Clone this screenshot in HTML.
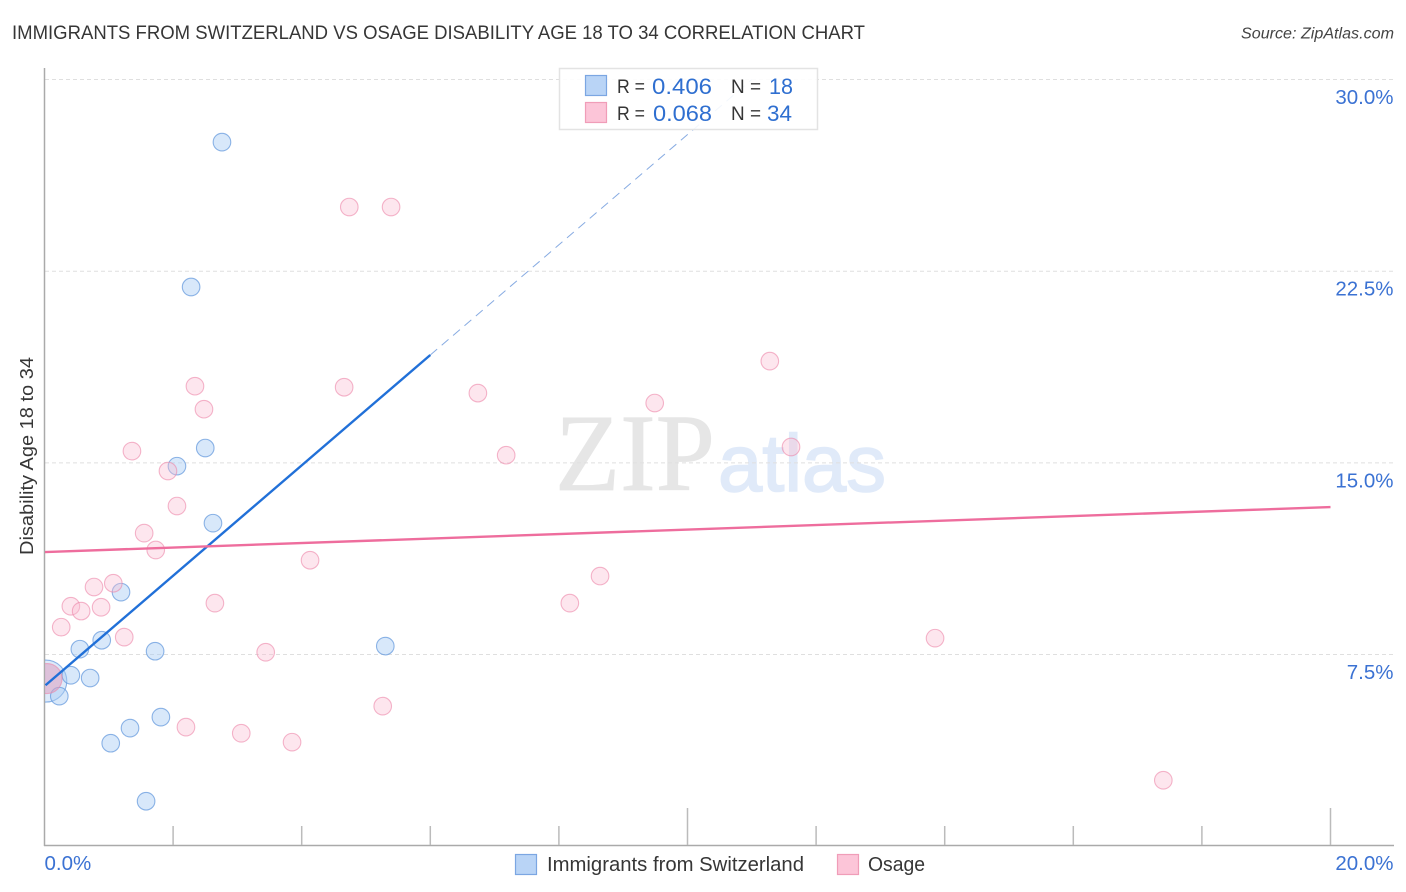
<!DOCTYPE html>
<html lang="en">
<head>
<meta charset="utf-8">
<title>Immigrants from Switzerland vs Osage Disability Age 18 to 34 Correlation Chart</title>
<style>
html,body{margin:0;padding:0;background:#fff;}
body{width:1406px;height:892px;overflow:hidden;}
svg{display:block;font-family:"Liberation Sans",sans-serif;}
</style>
</head>
<body>
<svg id="chart" xmlns="http://www.w3.org/2000/svg" width="1406" height="892" viewBox="0 0 1406 892">
  <defs><clipPath id="plot-clip"><rect x="45" y="60" width="1349" height="785"/></clipPath></defs>
  <text x="12" y="39" font-size="19.5" fill="#363636" textLength="853" lengthAdjust="spacingAndGlyphs">IMMIGRANTS FROM SWITZERLAND VS OSAGE DISABILITY AGE 18 TO 34 CORRELATION CHART</text>
  <text x="1241" y="38.5" font-size="15.5" font-style="italic" fill="#444" textLength="153" lengthAdjust="spacingAndGlyphs">Source: ZipAtlas.com</text>

  <g>
    <text x="555" y="490" font-family="'Liberation Serif',serif" font-size="110" fill="#e6e6e6" stroke="#e6e6e6" stroke-width="0.8" textLength="160" lengthAdjust="spacingAndGlyphs">ZIP</text>
    <text x="718" y="491" font-family="'Liberation Sans',sans-serif" font-size="81" fill="#e0eaf9" stroke="#e0eaf9" stroke-width="1.6" textLength="168" lengthAdjust="spacingAndGlyphs">atlas</text>
  </g>

  <g id="grid"></g>
  <g id="axes"></g>
  <g id="points" clip-path="url(#plot-clip)"></g>
  <g id="lines" clip-path="url(#plot-clip)"></g>

  <text transform="translate(33,456) rotate(-90)" text-anchor="middle" font-size="18" fill="#363636" textLength="198" lengthAdjust="spacingAndGlyphs">Disability Age 18 to 34</text>

  <g>
    <rect x="559.5" y="68.5" width="258" height="61" fill="#fff" fill-opacity="0.9" stroke="#e3e3e3" stroke-width="1.5"/>
    <rect x="585.5" y="75.5" width="21" height="20" fill="#b9d4f6" stroke="#7ba6e2" stroke-width="1.2"/>
    <rect x="585.5" y="102.5" width="21" height="20" fill="#fcc5d8" stroke="#f09db8" stroke-width="1.2"/>
    <text x="617" y="93" font-size="19.5" fill="#363636" textLength="28" lengthAdjust="spacingAndGlyphs">R =</text>
    <text x="652" y="94" font-size="22" fill="#2f6fd0" textLength="60" lengthAdjust="spacingAndGlyphs">0.406</text>
    <text x="731" y="93" font-size="19.5" fill="#363636" textLength="30" lengthAdjust="spacingAndGlyphs">N =</text>
    <text x="769" y="94" font-size="22" fill="#2f6fd0" textLength="24" lengthAdjust="spacingAndGlyphs">18</text>
    <text x="617" y="120" font-size="19.5" fill="#363636" textLength="28" lengthAdjust="spacingAndGlyphs">R =</text>
    <text x="653" y="121" font-size="22" fill="#2f6fd0" textLength="59" lengthAdjust="spacingAndGlyphs">0.068</text>
    <text x="731" y="120" font-size="19.5" fill="#363636" textLength="30" lengthAdjust="spacingAndGlyphs">N =</text>
    <text x="767" y="121" font-size="22" fill="#2f6fd0" textLength="25" lengthAdjust="spacingAndGlyphs">34</text>
  </g>

  <g>
    <rect x="515.5" y="854.5" width="21" height="20" fill="#b9d4f6" stroke="#7ba6e2" stroke-width="1.2"/>
    <text x="547" y="871" font-size="20" fill="#363636" textLength="257" lengthAdjust="spacingAndGlyphs">Immigrants from Switzerland</text>
    <rect x="837.5" y="854.5" width="21" height="20" fill="#fcc5d8" stroke="#f09db8" stroke-width="1.2"/>
    <text x="868" y="871" font-size="20" fill="#363636" textLength="57" lengthAdjust="spacingAndGlyphs">Osage</text>
  </g>
</svg>
<script>
// Chart data (percent values)
const xTickValues = [2, 4, 6, 8, 10, 12, 14, 16, 18, 20];
const xMajorTicks = [10, 20];
const xEndLabels = [0, 20];
const yTickValues = [7.5, 15, 22.5, 30];
const swissX = [2.76, 2.28, 2.50, 2.06, 2.62, 1.19, 0.89, 0.55, 1.72, 5.30, 0.41, 0.71, 0.23, 1.81, 1.33, 1.03, 1.58];
const swissY = [27.55, 21.88, 15.58, 14.87, 12.64, 9.94, 8.06, 7.71, 7.63, 7.83, 6.69, 6.58, 5.87, 5.05, 4.62, 4.03, 1.76];
const swissBigX = [0.02];
const swissBigY = [6.46];
const osageX = [4.74, 5.39, 11.28, 2.34, 4.66, 6.74, 9.49, 2.48, 1.36, 11.61, 7.18, 1.92, 2.06, 1.55, 1.73, 4.13, 8.64, 1.07, 0.77, 0.41, 0.88, 0.57, 8.17, 2.65, 0.26, 1.24, 13.85, 3.44, 5.26, 2.20, 3.06, 3.85, 17.40];
const osageY = [25.01, 25.01, 18.98, 18.00, 17.96, 17.73, 17.34, 17.10, 15.46, 15.62, 15.30, 14.68, 13.31, 12.25, 11.59, 11.19, 10.57, 10.29, 10.14, 9.39, 9.35, 9.20, 9.51, 9.51, 8.57, 8.18, 8.14, 7.59, 5.48, 4.66, 4.42, 4.07, 2.58];
const osageBigX = [0.04];
const osageBigY = [6.56];
const swissTrendX = [0, 6];
const swissTrendY = [6.26, 19.22];
const swissDashX = [6, 11];
const swissDashY = [19.22, 30];
const osageTrendX = [0, 20];
const osageTrendY = [11.51, 13.27];

const NS = 'http://www.w3.org/2000/svg';
const sx = v => 44.5 + v * 64.3;
const sy = v => 846.2 - v * 25.556;
const fmt = v => v.toFixed(1) + '%';
function mk(parent, tag, attrs) {
  const el = document.createElementNS(NS, tag);
  for (const k in attrs) el.setAttribute(k, attrs[k]);
  parent.appendChild(el);
  return el;
}
const grid = document.getElementById('grid');
const axes = document.getElementById('axes');
const pts = document.getElementById('points');
const lines = document.getElementById('lines');

yTickValues.forEach(v => {
  const g = mk(grid, 'line', {x1: 45, x2: 1393, y1: sy(v), y2: sy(v), stroke: '#dfdfdf', 'stroke-width': 1, 'stroke-dasharray': '4 3'});
  
  
  const t = mk(axes, 'text', {x: 1393.5, y: sy(v) + 24.5, 'text-anchor': 'end', 'font-size': 20.5, fill: '#3b72d3'});
  t.textContent = fmt(v);
  
  
});

const yAxis = mk(axes, 'line', {x1: 44.5, x2: 44.5, y1: 68, y2: 846, stroke: '#aaa', 'stroke-width': 1.5});


const xAxis = mk(axes, 'line', {x1: 44, x2: 1394, y1: 845.5, y2: 845.5, stroke: '#aaa', 'stroke-width': 1.5});



xTickValues.forEach(v => {
  const top = xMajorTicks.includes(v) ? 808 : 826;
  const tk = mk(axes, 'line', {x1: sx(v), x2: sx(v), y1: top, y2: 845, stroke: '#bbb', 'stroke-width': 1.5});
  
  
});
xEndLabels.forEach((v, i) => {
  const t = mk(axes, 'text', {x: i === 0 ? sx(v) : 1393.5, y: 870, 'text-anchor': i === 0 ? 'start' : 'end', 'font-size': 20.5, fill: '#3b72d3'});
  t.textContent = fmt(v);
  
  
});

function drawBlue(x, y, r, fillOp) {
  const c = mk(pts, 'circle', {cx: sx(x), cy: sy(y), r: r, fill: '#a9cbf3', 'fill-opacity': fillOp, stroke: '#5f95dc', 'stroke-opacity': 0.7, 'stroke-width': 1.1});
  
  
}
function drawPink(x, y, r, color, fillOp) {
  const c = mk(pts, 'circle', {cx: sx(x), cy: sy(y), r: r, fill: color, 'fill-opacity': fillOp, stroke: '#ec86a8', 'stroke-opacity': 0.6, 'stroke-width': 1.1});
  
  
}
swissBigX.forEach((x, i) => drawBlue(x, swissBigY[i], 21, 0.4));
swissX.forEach((x, i) => drawBlue(x, swissY[i], 8.8, 0.45));
osageBigX.forEach((x, i) => drawPink(x, osageBigY[i], 15, '#dc9fc0', 0.55));
osageX.forEach((x, i) => drawPink(x, osageY[i], 8.8, '#fbbcd1', 0.38));

const dash = mk(lines, 'line', {x1: sx(swissDashX[0]), y1: sy(swissDashY[0]), x2: sx(swissDashX[1]), y2: sy(swissDashY[1]), stroke: '#5f8fd8', 'stroke-opacity': 0.75, 'stroke-width': 1, 'stroke-dasharray': '9 6'});


const blueLine = mk(lines, 'line', {x1: sx(swissTrendX[0]) + 1, y1: sy(swissTrendY[0]) - 1, x2: sx(swissTrendX[1]), y2: sy(swissTrendY[1]), stroke: '#2170d8', 'stroke-width': 2.4});


const pinkLine = mk(lines, 'line', {x1: sx(osageTrendX[0]), y1: sy(osageTrendY[0]), x2: sx(osageTrendX[1]), y2: sy(osageTrendY[1]), stroke: '#ee6d9d', 'stroke-width': 2.4});


</script>
</body>
</html>
